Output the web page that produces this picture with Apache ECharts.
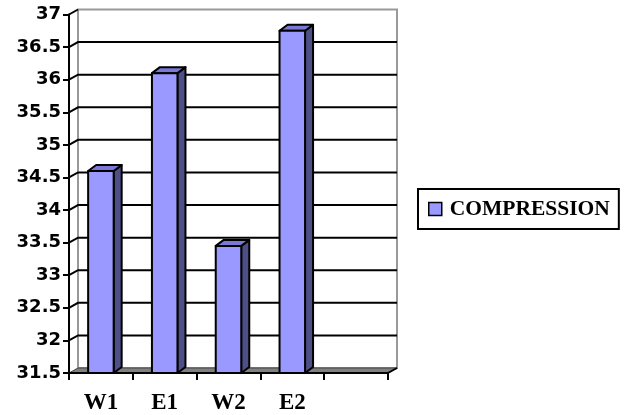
<!DOCTYPE html>
<html>
<head>
<meta charset="utf-8">
<script src="https://cdn.jsdelivr.net/npm/echarts@6/dist/echarts.min.js"></script>
<style>
  html, body { margin: 0; padding: 0; background: #ffffff; }
  #chart { width: 633px; height: 415px; }
</style>
</head>
<body>
<div id="chart"></div>
<script>
// Categories and values
const categories = ['W1', 'E1', 'W2', 'E2', ''];
const compression = [34.6, 36.1, 33.45, 36.75];
const seriesName = 'COMPRESSION';

// Value axis range and gridline values
const yMin = 31.5;
const yMax = 37;
const yStep = 0.5;
const gridValues = [32, 32.5, 33, 33.5, 34, 34.5, 35, 35.5, 36, 36.5];

// Pseudo-3D depth offsets (walls and columns)
const WALL_DX = 9, WALL_DY = -5;
const BAR_DX = 8, BAR_DY = -6;

const chart = echarts.init(document.getElementById('chart'), null, { renderer: 'canvas' });

// Back wall and left side wall
function renderWalls(params, api) {
  const cs = params.coordSys;
  const x0 = cs.x, x1 = cs.x + cs.width;
  const yT = api.coord([0, yMax])[1];
  const yB = api.coord([0, yMin])[1];
  return {
    type: 'group',
    children: [
      { type: 'polygon',
        shape: { points: [[x0 + WALL_DX, yT + WALL_DY], [x1 + WALL_DX, yT + WALL_DY],
                          [x1 + WALL_DX, yB + WALL_DY], [x0 + WALL_DX, yB + WALL_DY]] },
        style: { fill: '#ffffff', stroke: '#999999', lineWidth: 2 } },
      { type: 'polyline',
        shape: { points: [[x0, yT], [x0 + WALL_DX, yT + WALL_DY]] },
        style: { fill: null, stroke: '#000000', lineWidth: 2 } }
    ]
  };
}

// Gridlines: diagonal across the side wall, then across the back wall
function renderGrid(params, api) {
  const cs = params.coordSys;
  const x0 = cs.x, x1 = cs.x + cs.width;
  const y = api.coord([0, api.value(1)])[1];
  return {
    type: 'polyline',
    shape: { points: [[x0, y], [x0 + WALL_DX, y + WALL_DY], [x1 + WALL_DX, y + WALL_DY]] },
    style: { fill: null, stroke: '#000000', lineWidth: 2 }
  };
}

// Floor slab
function renderFloor(params, api) {
  const cs = params.coordSys;
  const x0 = cs.x, x1 = cs.x + cs.width;
  const yB = api.coord([0, yMin])[1];
  return {
    type: 'group',
    children: [
      { type: 'polygon',
        shape: { points: [[x0, yB], [x1, yB], [x1 + WALL_DX, yB + WALL_DY], [x0 + WALL_DX, yB + WALL_DY]] },
        style: { fill: '#808080', stroke: '#444444', lineWidth: 1 } },
      { type: 'polyline',
        shape: { points: [[x1, yB], [x1 + WALL_DX, yB + WALL_DY]] },
        style: { fill: null, stroke: '#000000', lineWidth: 2 } }
    ]
  };
}

// 3D column: front face, side face, top face
function renderBar(params, api) {
  const idx = api.value(0);
  const val = api.value(1);
  const top = api.coord([idx, val]);
  const base = api.coord([idx, yMin]);
  const w = api.size([1, 0])[0] * 0.4;
  const xl = top[0] - w / 2, xr = top[0] + w / 2;
  const yt = top[1], yb = base[1];
  const stroke = { stroke: '#000000', lineWidth: 2, lineJoin: 'round' };
  return {
    type: 'group',
    children: [
      { type: 'polygon',
        shape: { points: [[xr, yt], [xr + BAR_DX, yt + BAR_DY], [xr + BAR_DX, yb + BAR_DY], [xr, yb]] },
        style: Object.assign({ fill: '#4f4f87' }, stroke) },
      { type: 'polygon',
        shape: { points: [[xl, yt], [xl + BAR_DX, yt + BAR_DY], [xr + BAR_DX, yt + BAR_DY], [xr, yt]] },
        style: Object.assign({ fill: '#7a7ad6' }, stroke) },
      { type: 'rect',
        shape: { x: xl, y: yt, width: w, height: yb - yt },
        style: Object.assign({ fill: '#9999ff' }, stroke) }
    ]
  };
}

const option = {
  backgroundColor: '#ffffff',
  animation: false,
  grid: { left: 69, right: 245, top: 14.5, bottom: 41, containLabel: false },
  legend: {
    data: [{ name: seriesName, icon: 'rect',
             itemStyle: { color: '#9999ff', borderColor: '#000000', borderWidth: 1.5 } }],
    left: 418, top: 189,
    orient: 'vertical',
    itemWidth: 13, itemHeight: 13, itemGap: 0,
    padding: [9, 9, 9, 10],
    borderColor: '#000000', borderWidth: 2,
    textStyle: { fontFamily: 'Liberation Serif', fontWeight: 'bold', fontSize: 21.5, color: '#000000', padding: [0, 0, 0, 3] },
    selectedMode: false
  },
  xAxis: {
    type: 'category',
    data: categories,
    boundaryGap: true,
    z: 10,
    axisLine: { lineStyle: { color: '#000000', width: 2 } },
    axisTick: { show: true, alignWithLabel: false, length: 7, lineStyle: { color: '#000000', width: 2 } },
    axisLabel: { color: '#000000', fontFamily: 'Liberation Serif', fontWeight: 'bold', fontSize: 23, margin: 19,
                 interval: 0 },
    splitLine: { show: false }
  },
  yAxis: {
    type: 'value',
    min: yMin, max: yMax, interval: yStep,
    z: 10,
    axisLine: { show: true, lineStyle: { color: '#000000', width: 2 } },
    axisTick: { show: true, length: 6, lineStyle: { color: '#000000', width: 2 } },
    axisLabel: { color: '#000000', fontFamily: 'DejaVu Sans', fontWeight: 'bold', fontSize: 18, margin: 8 },
    splitLine: { show: false }
  },
  series: [
    { type: 'custom', name: 'walls', renderItem: renderWalls, data: [[0, yMax]], z: 1, silent: true },
    { type: 'custom', name: 'gridlines', renderItem: renderGrid,
      data: gridValues.map(v => [0, v]), z: 2, silent: true },
    { type: 'custom', name: 'floor', renderItem: renderFloor, data: [[0, yMin]], z: 3, silent: true },
    { type: 'custom', name: seriesName, renderItem: renderBar,
      itemStyle: { color: '#9999ff' },
      data: compression.map((v, i) => [i, v]), z: 4,
      encode: { x: 0, y: 1 } }
  ]
};

chart.setOption(option);
</script>
</body>
</html>
